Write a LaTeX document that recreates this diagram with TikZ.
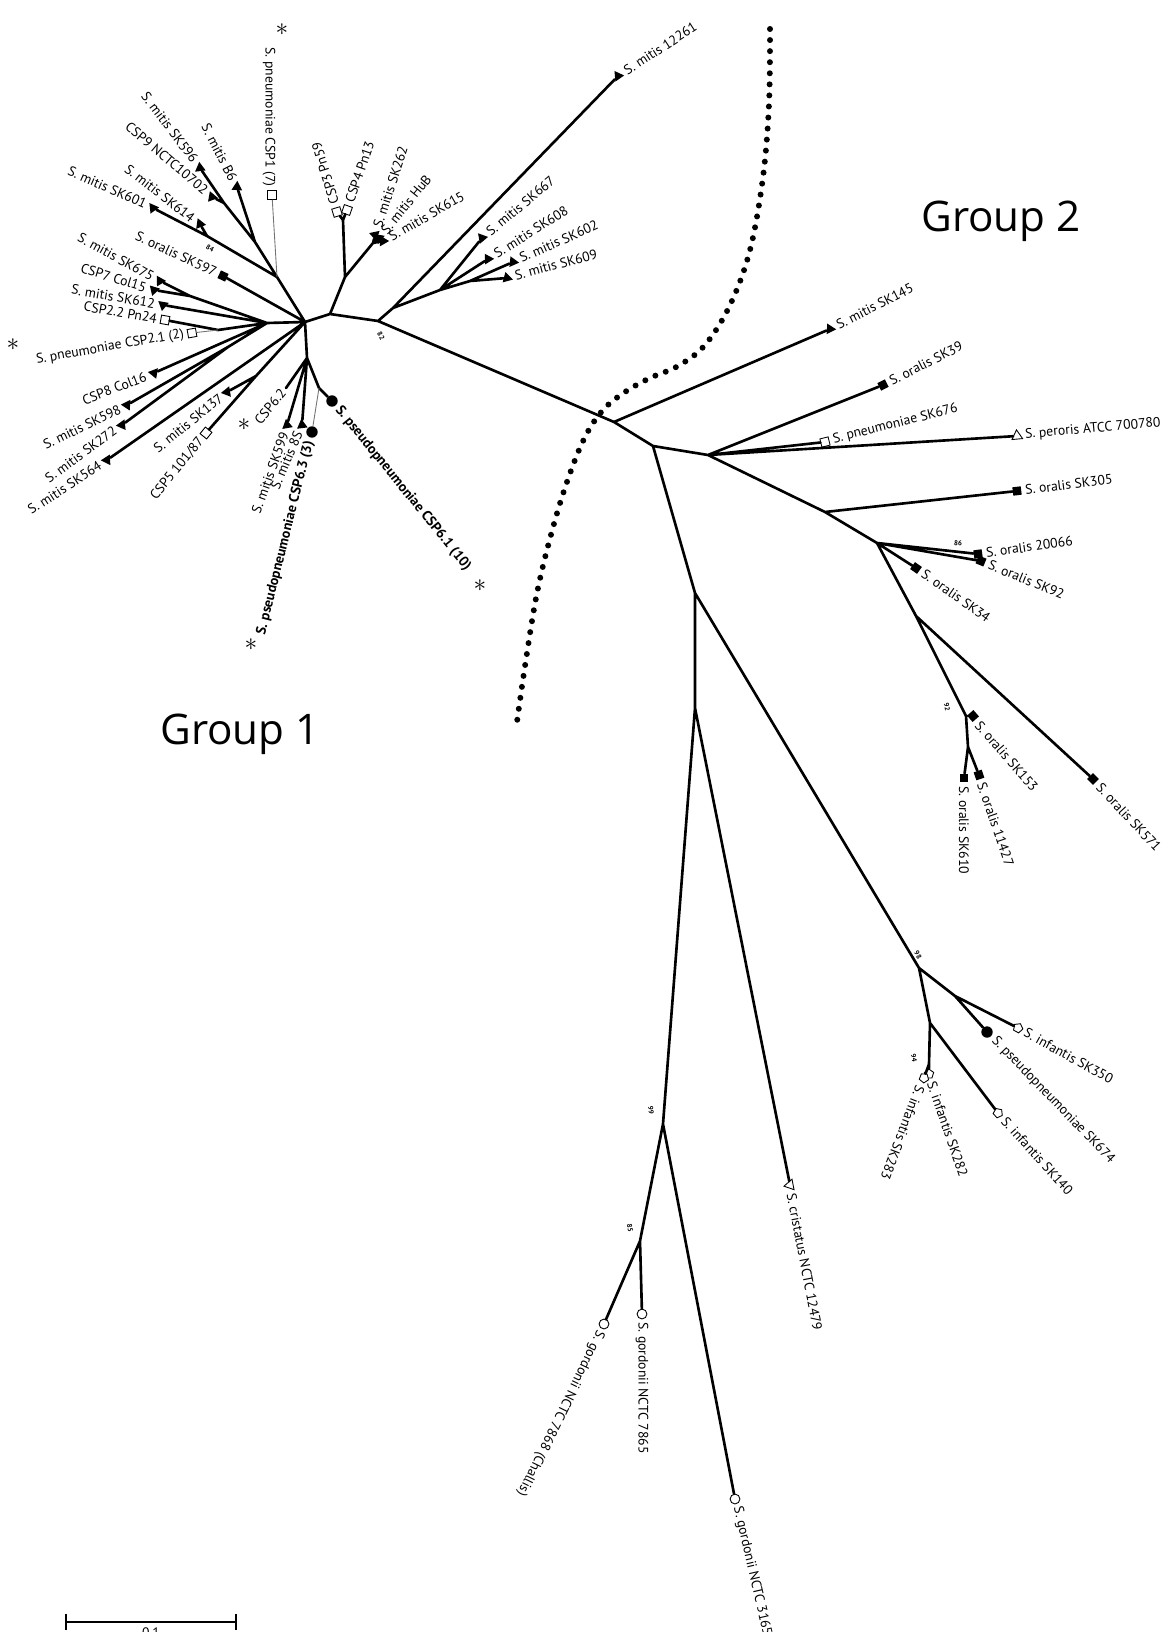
\documentclass[tikz,border=0pt]{standalone}
\usepackage{fontspec}
\setmainfont{PT Sans}
\newfontfamily\grpfont{Open Sans}
\usetikzlibrary{shapes.geometric}

\tikzset{
  br/.style={line width=1.5pt, line cap=round},
  thinbr/.style={line width=0.5pt, black!55},
  lab/.style={font=\fontsize{7.8}{9}\selectfont, inner sep=0.5pt},
  boldlab/.style={font=\fontsize{8}{10}\selectfont\bfseries, inner sep=0.5pt},
  boot/.style={font=\fontsize{4}{4}\selectfont\bfseries, inner sep=0pt},
  star/.style={font=\fontsize{14}{14}\selectfont, inner sep=0pt},
  mitis/.style={regular polygon, regular polygon sides=3, fill=black, inner sep=0pt, minimum size=7pt},
  oralis/.style={rectangle, fill=black, inner sep=0pt, minimum size=4.8pt},
  pneu/.style={rectangle, draw, fill=white, line width=0.5pt, inner sep=0pt, minimum size=4.8pt},
  pseudo/.style={circle, fill=black, inner sep=0pt, minimum size=6.5pt},
  infantis/.style={regular polygon, regular polygon sides=5, draw, fill=white, line width=0.5pt, inner sep=0pt, minimum size=5.6pt},
  peroris/.style={regular polygon, regular polygon sides=3, draw, line width=0.5pt, inner sep=0pt, minimum size=7pt},
  gordonii/.style={circle, draw, line width=0.5pt, inner sep=0pt, minimum size=5.6pt},
  dotline/.style={line width=3.4pt, line cap=round, dash pattern=on 0pt off 6.3pt},
}

\begin{document}
\begin{tikzpicture}[x=0.02cm, y=-0.02cm]
\useasboundingbox (0,0) rectangle (1172,1632);

% inner points, group 1
\coordinate (hub) at (305,322);
\coordinate (nB) at (330,314);
\coordinate (n82) at (378,321);
\coordinate (nO) at (345,277);
\coordinate (nP) at (343,220);
\coordinate (nHuB) at (373,243);
\coordinate (nQ) at (393,308);
\coordinate (nR) at (440,290);
\coordinate (nS) at (470,281);
\coordinate (nD) at (277,277);
\coordinate (nE) at (255,242);
\coordinate (nF) at (224,203);
\coordinate (n84) at (207,236);
\coordinate (nH) at (267,323);
\coordinate (nJ) at (190,296);
\coordinate (nI) at (218,330);
\coordinate (nK) at (228,347);
\coordinate (nL) at (256,376);
\coordinate (nM) at (307,358);
\coordinate (nN) at (319,388);
\coordinate (c62) at (286,388);

% inner points, group 2
\coordinate (nT) at (614,422);
\coordinate (nU) at (653,446);
\coordinate (nW) at (708,455);
\coordinate (nX) at (825,512);
\coordinate (n86) at (877,543);
\coordinate (nZ) at (916,616);
\coordinate (n92) at (966,716);
\coordinate (nAB) at (968,747);
\coordinate (nV) at (695,593);
\coordinate (nVA) at (695,708);
\coordinate (n98) at (919,968);
\coordinate (nAC) at (955,996);
\coordinate (n94) at (930,1023);
\coordinate (nAE) at (929,1064);
\coordinate (n99) at (663,1124);
\coordinate (n85) at (640,1241);

% leaves, upper left
\node[mitis, rotate=127] (m596) at (200,168) {};
\node[lab, anchor=east, rotate=-53] (t596) at (196,162) {S. mitis SK596};
\node[mitis, rotate=140] (m9) at (212,197) {};
\node[lab, anchor=east, rotate=-40] (t9) at (207,192) {CSP9 NCTC10702};
\node[mitis, rotate=117] (mB6) at (237,187) {};
\node[lab, anchor=east, rotate=-63] (tB6) at (234,181) {S. mitis B6};
\node[pneu] (p1) at (272,195) {};
\node[lab, anchor=east, rotate=-90] (t1) at (269,188) {S. pneumoniae CSP1 (7)};
\node[mitis, rotate=156] (m601) at (153,208) {};
\node[lab, anchor=east, rotate=-24] (t601) at (147,205) {S. mitis SK601};
\node[mitis, rotate=142] (m614) at (200,224) {};
\node[lab, anchor=east, rotate=-38] (t614) at (194,220) {S. mitis SK614};
\node[oralis, rotate=-25] (o597) at (223,276) {};
\node[lab, anchor=east, rotate=-25] (t597) at (217,273) {S. oralis SK597};
\node[mitis, rotate=151] (m675) at (160,281) {};
\node[lab, anchor=east, rotate=-29] (t675) at (154,278) {S. mitis SK675};
\node[mitis, rotate=163] (c7) at (154,290) {};
\node[lab, anchor=east, rotate=-17] (t7) at (147,288) {CSP7 Col15};
\node[mitis, rotate=170] (m612) at (163,305) {};
\node[lab, anchor=east, rotate=-10] (t612) at (156,304) {S. mitis SK612};
\node[pneu, rotate=-10] (p22) at (165,320) {};
\node[lab, anchor=east, rotate=-10] (t22) at (158,319) {CSP2.2 Pn24};
\node[pneu, rotate=10] (p21) at (192,333) {};
\node[lab, anchor=east, rotate=10] (t21) at (185,334) {S. pneumoniae CSP2.1 (2)};

% leaves, lower left
\node[mitis, rotate=201] (c8) at (154,373) {};
\node[lab, anchor=east, rotate=21] (t8) at (147,376) {CSP8 Col16};
\node[mitis, rotate=206] (m598) at (127,405) {};
\node[lab, anchor=east, rotate=26] (t598) at (121,408) {S. mitis SK598};
\node[mitis, rotate=216] (m272) at (122,425) {};
\node[lab, anchor=east, rotate=36] (t272) at (116,429) {S. mitis SK272};
\node[mitis, rotate=213] (m564) at (107,460) {};
\node[lab, anchor=east, rotate=33] (t564) at (101,464) {S. mitis SK564};
\node[mitis, rotate=219] (m137) at (227,392) {};
\node[lab, anchor=east, rotate=39] (t137) at (222,396) {S. mitis SK137};
\node[pneu, rotate=51] (p5) at (206,433) {};
\node[lab, anchor=east, rotate=51] (t5) at (202,438) {CSP5 101/87};
\node[lab, anchor=east, rotate=50] (t62) at (284,390) {CSP6.2};
\node[mitis, rotate=250] (m599) at (287,425) {};
\node[lab, anchor=east, rotate=70] (t599) at (285,432) {S. mitis SK599};
\node[mitis, rotate=247] (m8S) at (302,425) {};
\node[lab, anchor=east, rotate=67] (t8S) at (299,431) {S. mitis 8S};
\node[pseudo] (s63) at (312,432) {};
\node[boldlab, anchor=east, rotate=76] (t63) at (310,440) {S. pseudopneumoniae CSP6.3 (3)};
\node[pseudo] (s61) at (332,401) {};
\node[boldlab, anchor=west, rotate=-51] (t61) at (337,407) {S. pseudopneumoniae CSP6.1 (10)};

% leaves, upper middle
\node[pneu, rotate=17] (p3) at (337,212) {};
\node[lab, anchor=west, rotate=107] (t3) at (335,205) {CSP3 Pn59};
\node[pneu, rotate=-19] (p4) at (347,210) {};
\node[lab, anchor=west, rotate=71] (t4) at (349,203) {CSP4 Pn13};
\node[mitis, rotate=72] (m262) at (375,235) {};
\node[lab, anchor=west, rotate=72] (t262) at (377,228) {S. mitis SK262};
\node[mitis, rotate=51] (mHuB) at (379,238) {};
\node[lab, anchor=west, rotate=51] (tHuB) at (383,233) {S. mitis HuB};
\node[mitis, rotate=30] (m615) at (383,241) {};
\node[lab, anchor=west, rotate=30] (t615) at (389,238) {S. mitis SK615};
\node[mitis, rotate=35] (m12261) at (618,76) {};
\node[lab, anchor=west, rotate=33] (t12261) at (624,72) {S. mitis 12261};
\node[mitis, rotate=40] (m667) at (482,238) {};
\node[lab, anchor=west, rotate=40] (t667) at (487,234) {S. mitis SK667};
\node[mitis, rotate=32] (m608) at (488,259) {};
\node[lab, anchor=west, rotate=32] (t608) at (494,255) {S. mitis SK608};
\node[mitis, rotate=24] (m602) at (513,262) {};
\node[lab, anchor=west, rotate=24] (t602) at (519,259) {S. mitis SK602};
\node[mitis, rotate=15] (m609) at (507,278) {};
\node[lab, anchor=west, rotate=15] (t609) at (514,276) {S. mitis SK609};

% leaves, right
\node[mitis, rotate=27] (m145) at (830,329) {};
\node[lab, anchor=west, rotate=27] (t145) at (836,326) {S. mitis SK145};
\node[oralis, rotate=27] (o39) at (883,385) {};
\node[lab, anchor=west, rotate=27] (t39) at (889,382) {S. oralis SK39};
\node[pneu, rotate=14] (p676) at (825,442) {};
\node[lab, anchor=west, rotate=14] (t676) at (832,440) {S. pneumoniae SK676};
\node[peroris, rotate=5] (per) at (1017,436) {};
\node[lab, anchor=west, rotate=5] (tper) at (1024,435) {S. peroris ATCC 700780};
\node[oralis, rotate=7] (o305) at (1017,491) {};
\node[lab, anchor=west, rotate=7] (t305) at (1024,490) {S. oralis SK305};
\node[oralis, rotate=8] (o20066) at (978,554) {};
\node[lab, anchor=west, rotate=8] (t20066) at (985,553) {S. oralis 20066};
\node[oralis, rotate=-22] (o92) at (981,561) {};
\node[lab, anchor=west, rotate=-22] (t92) at (988,564) {S. oralis SK92};
\node[oralis, rotate=-35] (o34) at (916,568) {};
\node[lab, anchor=west, rotate=-35] (t34) at (922,572) {S. oralis SK34};
\node[oralis, rotate=-45] (o571) at (1093,779) {};
\node[lab, anchor=west, rotate=-47] (t571) at (1098,784) {S. oralis SK571};
\node[oralis, rotate=-49] (o153) at (973,716) {};
\node[lab, anchor=west, rotate=-49] (t153) at (977,722) {S. oralis SK153};
\node[oralis] (o610) at (964,778) {};
\node[lab, anchor=west, rotate=-90] (t610) at (964,785) {S. oralis SK610};
\node[oralis, rotate=-71] (o11427) at (979,775) {};
\node[lab, anchor=west, rotate=-71] (t11427) at (981,782) {S. oralis 11427};

% leaves, lower right
\node[infantis, rotate=-29] (i350) at (1018,1028) {};
\node[lab, anchor=west, rotate=-29] (t350) at (1024,1031) {S. infantis SK350};
\node[pseudo] (s674) at (987,1032) {};
\node[lab, anchor=west, rotate=-46] (t674) at (993,1038) {S. pseudopneumoniae SK674};
\node[infantis, rotate=-48] (i140) at (998,1113) {};
\node[lab, anchor=west, rotate=-48] (t140) at (1003,1118) {S. infantis SK140};
\node[infantis, rotate=-71] (i282) at (929,1074) {};
\node[lab, anchor=west, rotate=-71] (t282) at (931,1081) {S. infantis SK282};
\node[infantis, rotate=-111] (i283) at (924,1078) {};
\node[lab, anchor=west, rotate=-111] (t283) at (921,1085) {S. infantis SK283};

% leaves, bottom
\node[peroris, rotate=101] (cri) at (790,1185) {};
\node[lab, anchor=west, rotate=-79] (tcri) at (791,1192) {S. cristatus NCTC 12479};
\node[gordonii] (g7868) at (604,1324) {};
\node[lab, anchor=west, rotate=-116] (t7868) at (601,1330) {S. gordonii NCTC 7868 (Challis)};
\node[gordonii] (g7865) at (642,1314) {};
\node[lab, anchor=west, rotate=-90] (t7865) at (642,1321) {S. gordonii NCTC 7865};
\node[gordonii] (g3165) at (735,1499) {};
\node[lab, anchor=west, rotate=-77] (t3165) at (737,1506) {S. gordonii NCTC 3165};

% branches
\draw[br] (hub) -- (nB) -- (n82)
  (nB) -- (nO) -- (nP) -- (p3) (nP) -- (p4)
  (nO) -- (nHuB) -- (m262) (nHuB) -- (mHuB) (nHuB) -- (m615)
  (n82) -- (nQ) -- (m12261)
  (nQ) -- (nR) -- (m667) (nR) -- (m608) (nR) -- (nS) -- (m602) (nS) -- (m609)
  (n82) -- (nT) -- (m145)
  (nT) -- (nU) -- (nW) -- (o39) (nW) -- (p676) (nW) -- (per)
  (nW) -- (nX) -- (o305) (nX) -- (n86) -- (o20066) (n86) -- (o92) (n86) -- (o34)
  (n86) -- (nZ) -- (o571) (nZ) -- (n92) -- (o153) (n92) -- (nAB) -- (o610) (nAB) -- (o11427)
  (nU) -- (nV) -- (nVA) -- (cri) (nVA) -- (n99) -- (g3165)
  (n99) -- (n85) -- (g7868) (n85) -- (g7865)
  (nV) -- (n98) -- (nAC) -- (i350) (nAC) -- (s674)
  (n98) -- (n94) -- (i140) (n94) -- (nAE) -- (i282) (nAE) -- (i283);
\draw[br] (hub) -- (nD) -- (nE) -- (mB6) (nE) -- (nF) -- (m596) (nF) -- (m9)
  (nD) -- (n84) -- (m601) (n84) -- (m614)
  (hub) -- (o597)
  (hub) -- (nH) -- (nJ) -- (m675) (nJ) -- (c7) (nH) -- (m612) (nH) -- (nI) -- (p22)
  (nH) -- (c8) (nH) -- (nK) -- (m598) (nK) -- (m272)
  (hub) -- (m564) (hub) -- (nL) -- (m137) (nL) -- (p5)
  (hub) -- (nM) -- (c62) (nM) -- (m599) (nM) -- (m8S) (nM) -- (nN) -- (s61);
\draw[thinbr] (nD) -- (p1) (nI) -- (p21) (nN) -- (s63);

% bootstrap values
\node[boot, rotate=-60] (b82) at (381,336) {82};
\node[boot, rotate=-30] (b84) at (210,248) {84};
\node[boot, rotate=-5] (b86) at (958,543) {86};
\node[boot, rotate=-80] (b92) at (947,707) {92};
\node[boot, rotate=-60] (b98) at (918,955) {98};
\node[boot, rotate=-80] (b94) at (914,1058) {94};
\node[boot, rotate=-85] (b99) at (651,1110) {99};
\node[boot, rotate=-80] (b85) at (630,1228) {85};

% stars
\node[star] (st1) at (282,30) {$\ast$};
\node[star] (st21) at (13,345) {$\ast$};
\node[star] (st62) at (244,425) {$\ast$};
\node[star] (st63) at (251,645) {$\ast$};
\node[star] (st61) at (480,586) {$\ast$};

% group border and names
\draw[dotline] plot[smooth, tension=0.6] coordinates {(770,29) (769,104) (763,177) (750,250) (730,305) (705,345) (678,366) (650,378) (625,392) (603,410) (585,437) (568,479) (552,531) (537,593) (525,666) (516,729)};
\node[font={\grpfont\fontsize{24}{28}\selectfont}] (grp2) at (1001,221) {Group 2};
\node[font={\grpfont\fontsize{24}{28}\selectfont}] (grp1) at (240,734) {Group 1};

% scale bar
\coordinate (sbl) at (65,1622);
\coordinate (sbr) at (237,1622);
\draw[line width=1.3pt, |-|] (sbl) -- (sbr);
\node[lab, anchor=north] (sbt) at (151,1626) {0.1};
\end{tikzpicture}
\end{document}
